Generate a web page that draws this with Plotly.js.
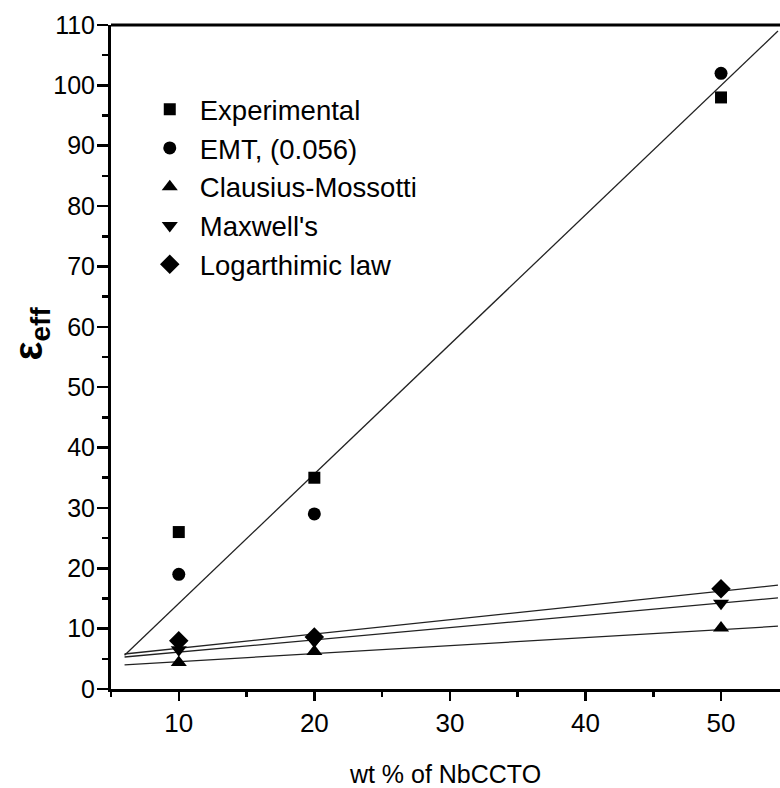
<!DOCTYPE html>
<html>
<head>
<meta charset="utf-8">
<script src="https://cdn.plot.ly/plotly-3.0.1.min.js"></script>
<style>
html,body{margin:0;padding:0;background:#fff;}
#chart{width:780px;height:788px;}
</style>
</head>
<body>
<div id="chart"></div>
<script>
// ---- data ----
var wt = [10, 20, 50];
var experimental = [26, 35, 98];
var emt = [19, 29, 102];
var clausius = [4.4, 6.2, 10.1];
var maxwell = [6.5, 7.9, 14.2];
var logLaw = [8.0, 8.6, 16.6];

// fitted straight lines (end points)
var fitX = [6, 54.2];
var expFit = [5.6, 109];
var logFit = [5.8, 17.2];
var maxFit = [5.3, 15.1];
var cmFit = [4.0, 10.4];

var seriesNames = ["Experimental", "EMT, (0.056)", "Clausius-Mossotti", "Maxwell's", "Logarthimic law"];
var xTicks = [10, 20, 30, 40, 50];
var yTicks = [0, 10, 20, 30, 40, 50, 60, 70, 80, 90, 100, 110];

var FONT = "'Liberation Sans', Arial, sans-serif";

function fit(y) {
  return {x: fitX, y: y, mode: 'lines', type: 'scatter', showlegend: false,
          line: {color: '#222', width: 1.3}, hoverinfo: 'skip'};
}
function pts(y, name, symbol, size) {
  return {x: wt, y: y, name: name, mode: 'markers', type: 'scatter',
          marker: {symbol: symbol, size: size, color: '#000'}};
}

var data = [
  fit(expFit), fit(logFit), fit(maxFit), fit(cmFit),
  pts(experimental, seriesNames[0], 'square', 12),
  pts(emt, seriesNames[1], 'circle', 13),
  pts(clausius, seriesNames[2], 'triangle-up', 14),
  pts(maxwell, seriesNames[3], 'triangle-down', 14),
  pts(logLaw, seriesNames[4], 'diamond', 15)
];

var layout = {
  width: 780, height: 788,
  margin: {l: 111, r: 0, t: 25, b: 99},
  paper_bgcolor: '#fff', plot_bgcolor: '#fff',
  font: {family: FONT, color: '#000', size: 24},
  showlegend: true,
  legend: {x: 0.043, y: 0.91, xanchor: 'left', yanchor: 'top',
           bgcolor: 'rgba(0,0,0,0)', font: {size: 27.5, family: FONT},
           itemwidth: 50, tracegroupgap: 0},
  xaxis: {
    range: [5, 54.35], tickvals: xTicks, ticktext: xTicks.map(String),
    showgrid: false, zeroline: false,
    showline: true, linecolor: '#000', linewidth: 3, mirror: false,
    ticks: 'outside', ticklen: 9, tickwidth: 2.5, tickcolor: '#000',
    tickfont: {size: 26, family: FONT},
    minor: {dtick: 5, tick0: 5, ticks: 'outside', ticklen: 5, tickwidth: 2.5, tickcolor: '#000'},
    title: {text: 'wt % of NbCCTO', font: {size: 25, family: FONT}, standoff: 34}
  },
  yaxis: {
    range: [0, 110], tickvals: yTicks, ticktext: yTicks.map(String),
    showgrid: false, zeroline: false,
    showline: true, linecolor: '#000', linewidth: 3, mirror: false,
    ticks: 'outside', ticklen: 11, tickwidth: 2.5, tickcolor: '#000',
    tickfont: {size: 25, family: FONT}, ticklabelstandoff: -3,
    minor: {dtick: 5, tick0: 5, ticks: 'outside', ticklen: 6, tickwidth: 2.5, tickcolor: '#000'}
  },
  shapes: [
    {type: 'line', xref: 'paper', yref: 'paper', x0: 0, x1: 1, y0: 1, y1: 1,
     line: {color: '#000', width: 3}}
  ],
  annotations: [
    {xref: 'paper', yref: 'paper', x: -0.12, y: 0.535, xanchor: 'center', yanchor: 'middle',
     textangle: -90, showarrow: false,
     text: '<b>ε<sub>eff</sub></b>', font: {size: 40, family: FONT}}
  ]
};

Plotly.newPlot('chart', data, layout, {staticPlot: true});
</script>
</body>
</html>
